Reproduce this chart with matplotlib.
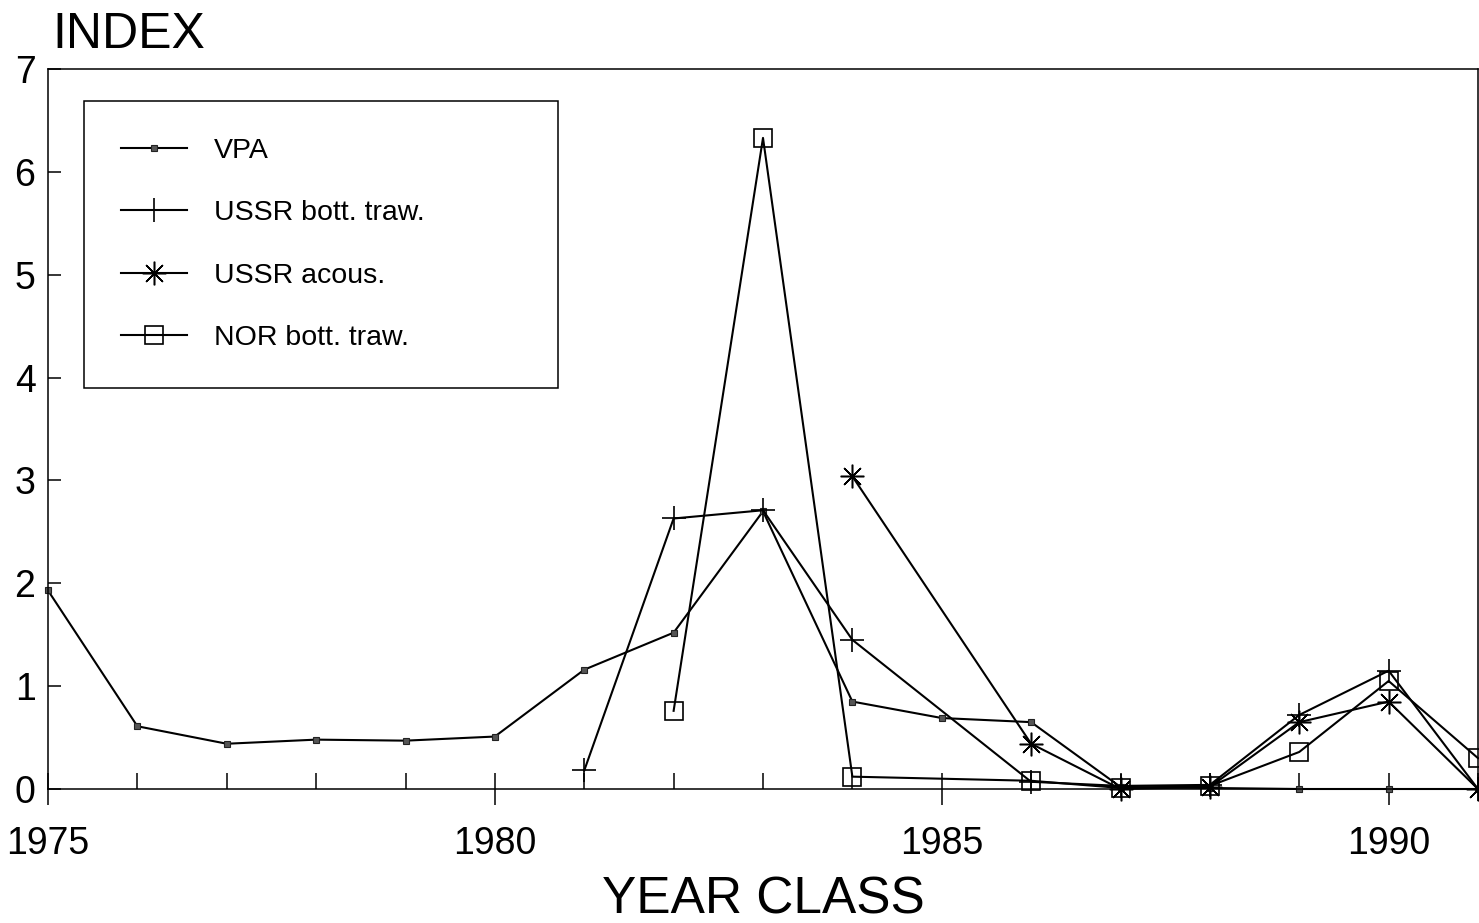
import numpy as np
import matplotlib
matplotlib.use('Agg')
import matplotlib.pyplot as plt
from matplotlib.ticker import MultipleLocator

plt.rcParams['font.family'] = ['Liberation Sans', 'DejaVu Sans']

# Data
vpa_years = [1975, 1976, 1977, 1978, 1979, 1980, 1981, 1982, 1983, 1984,
             1985, 1986, 1987, 1988, 1989, 1990, 1991]
vpa = [1.93, 0.61, 0.44, 0.48, 0.47, 0.51, 1.16, 1.52, 2.70, 0.85,
       0.69, 0.65, 0.02, 0.01, 0.0, 0.0, 0.0]

ussr_trawl_years = [1981, 1982, 1983, 1984, 1986, 1987, 1988, 1989, 1990, 1991]
ussr_trawl = [0.18, 2.63, 2.71, 1.45, 0.07, 0.03, 0.04, 0.72, 1.15, 0.0]

ussr_acous_years = [1984, 1986, 1987, 1988, 1989, 1990, 1991]
ussr_acous = [3.04, 0.44, 0.0, 0.02, 0.65, 0.85, 0.0]

nor_trawl_years = [1982, 1983, 1984, 1986, 1987, 1988, 1989, 1990, 1991]
nor_trawl = [0.76, 6.33, 0.12, 0.08, 0.01, 0.03, 0.36, 1.05, 0.30]

fig = plt.figure(figsize=(14.79, 9.23), dpi=100)
ax = fig.add_axes([48 / 1479, 1 - 789 / 923, 1430 / 1479, 720 / 923])

lw = 1.5
ax.plot(vpa_years, vpa, color='black', lw=lw, marker='s', ms=3.8,
        mfc='#555555', mec='#222222', mew=0.8, clip_on=False, label='VPA')
ax.plot(ussr_trawl_years, ussr_trawl, color='black', lw=lw, marker='+', ms=17,
        mew=1.2, clip_on=False, label='USSR bott. traw.')
ax.plot(ussr_acous_years, ussr_acous, color='black', lw=lw, marker=(8, 2, 0), ms=17,
        mew=1.1, clip_on=False, label='USSR acous.')
ax.plot(nor_trawl_years, nor_trawl, color='black', lw=lw, marker='s', ms=13,
        mfc='none', mec='black', mew=1.2, clip_on=False, label='NOR bott. traw.')

ax.set_xlim(1975, 1991)
ax.set_ylim(0, 7)

ax.xaxis.set_major_locator(MultipleLocator(5))
ax.xaxis.set_minor_locator(MultipleLocator(1))
ax.yaxis.set_major_locator(MultipleLocator(1))

ax.tick_params(axis='x', which='major', direction='inout', length=23, width=1.1,
               labelsize=27, pad=15, top=False)
ax.tick_params(axis='x', which='minor', direction='in', length=11.5, width=1.1, top=False)
ax.tick_params(axis='y', which='major', direction='in', length=9.5, width=1.1,
               labelsize=27, pad=9, right=False)

for s in ax.spines.values():
    s.set_linewidth(1.1)

ax.set_xlabel('YEAR CLASS', fontsize=37, va='baseline')
ax.xaxis.set_label_coords(0.5, (789 - 913) / 720)
ax.set_ylabel('INDEX', fontsize=36, rotation=0, ha='left', va='baseline')
ax.yaxis.set_label_coords(4 / 1430, (789 - 48) / 720)

leg = ax.legend(loc='upper left', bbox_to_anchor=(36 / 1430, 1 - 32 / 720, 474 / 1430, 0.0),
                mode='expand', fontsize=20.5, frameon=True, fancybox=False,
                edgecolor='black', borderpad=1.3, labelspacing=1.28,
                handlelength=2.3, handletextpad=0.95, borderaxespad=0)
leg.get_frame().set_linewidth(1.1)
leg.get_frame().set_alpha(1)

fig.savefig('out.png', dpi=100)
